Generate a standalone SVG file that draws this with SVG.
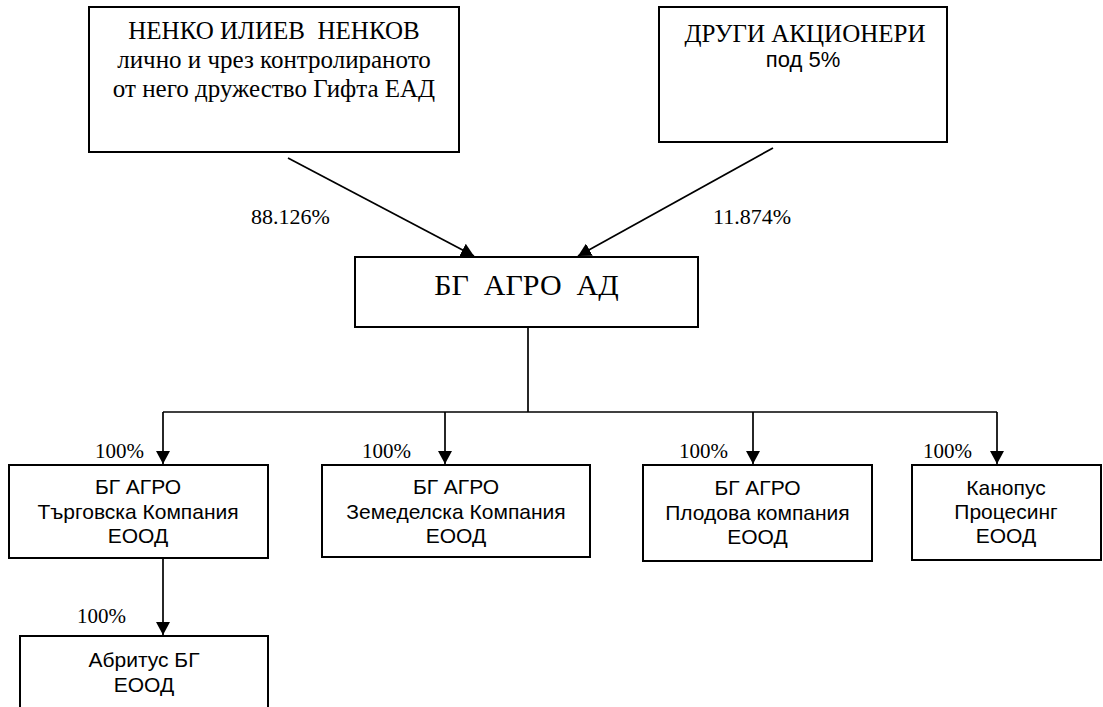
<svg xmlns="http://www.w3.org/2000/svg" width="1103" height="707" viewBox="0 0 1103 707">
<style>
.box{fill:#fff;stroke:#000;stroke-width:2}
.ser{font-family:"Liberation Serif","Times New Roman",serif;fill:#000}
.san{font-family:"Liberation Sans",Arial,sans-serif;fill:#000}
.ln{stroke:#000;stroke-width:1.7;fill:none}
.c{text-anchor:middle}
.cb{font-size:21px}
</style>
<defs>
<marker id="ah" viewBox="0 0 13 14" refX="13" refY="7" markerWidth="13" markerHeight="14" markerUnits="userSpaceOnUse" orient="auto">
<path d="M0,0 L13,7 L0,14 Z" fill="#000"/>
</marker>
</defs>
<rect width="1103" height="707" fill="#fff"/>
<g id="connectors">
<line class="ln" x1="288" y1="158" x2="474" y2="256" marker-end="url(#ah)"/>
<line class="ln" x1="773" y1="148" x2="578" y2="256" marker-end="url(#ah)"/>
<line class="ln" x1="528" y1="327" x2="528" y2="412"/>
<line class="ln" x1="163" y1="412" x2="997" y2="412"/>
<line class="ln" x1="163" y1="412" x2="163" y2="464" marker-end="url(#ah)"/>
<line class="ln" x1="445" y1="412" x2="445" y2="464" marker-end="url(#ah)"/>
<line class="ln" x1="753" y1="412" x2="753" y2="464" marker-end="url(#ah)"/>
<line class="ln" x1="997" y1="412" x2="997" y2="464" marker-end="url(#ah)"/>
<line class="ln" x1="163" y1="535" x2="163" y2="635" marker-end="url(#ah)"/>
<text class="ser" x="251" y="224" font-size="22">88.126%</text>
<text class="ser" x="713" y="224" font-size="22">11.874%</text>
<text class="ser" x="95" y="458" font-size="21">100%</text>
<text class="ser" x="362" y="458" font-size="21">100%</text>
<text class="ser" x="679" y="458" font-size="21">100%</text>
<text class="ser" x="923" y="458" font-size="21">100%</text>
<text class="ser" x="77" y="623" font-size="21">100%</text>
</g>
<g id="n-nenkov">
<rect class="box" x="89" y="7" width="370" height="145"/>
<text class="ser c" x="274" y="39" font-size="25" xml:space="preserve">НЕНКО ИЛИЕВ  НЕНКОВ</text>
<text class="ser c" x="274" y="68" font-size="25">лично и чрез контролираното</text>
<text class="ser c" x="274" y="97" font-size="25">от него дружество Гифта ЕАД</text>
</g>
<g id="n-drugi">
<rect class="box" x="659" y="7" width="288" height="135"/>
<text class="ser c" x="805" y="42" font-size="25">ДРУГИ АКЦИОНЕРИ</text>
<text class="san c" x="803" y="67" font-size="22">под 5%</text>
</g>
<g id="n-bgagro">
<rect class="box" x="355" y="257" width="343" height="70"/>
<text class="ser c" x="526.5" y="295" font-size="30" xml:space="preserve">БГ  АГРО  АД</text>
</g>
<g id="n-targovska">
<rect class="box" x="9" y="465" width="259" height="93"/>
<text class="san c cb" x="138" y="494">БГ АГРО</text>
<text class="san c cb" x="138" y="519">Търговска Компания</text>
<text class="san c cb" x="138" y="543">ЕООД</text>
</g>
<g id="n-zemedelska">
<rect class="box" x="322" y="465" width="268" height="92"/>
<text class="san c cb" x="456" y="494">БГ АГРО</text>
<text class="san c cb" x="456" y="519">Земеделска Компания</text>
<text class="san c cb" x="456" y="543">ЕООД</text>
</g>
<g id="n-plodova">
<rect class="box" x="643" y="465" width="229" height="96"/>
<text class="san c cb" x="757.5" y="495">БГ АГРО</text>
<text class="san c cb" x="757.5" y="520">Плодова компания</text>
<text class="san c cb" x="757.5" y="544">ЕООД</text>
</g>
<g id="n-kanopus">
<rect class="box" x="912" y="465" width="189" height="95"/>
<text class="san c cb" x="1006" y="495">Канопус</text>
<text class="san c cb" x="1006" y="519">Процесинг</text>
<text class="san c cb" x="1006" y="543">ЕООД</text>
</g>
<g id="n-abritus">
<rect class="box" x="20" y="636" width="248" height="90"/>
<text class="san c cb" x="144" y="667">Абритус БГ</text>
<text class="san c cb" x="144" y="692">ЕООД</text>
</g>
</svg>
